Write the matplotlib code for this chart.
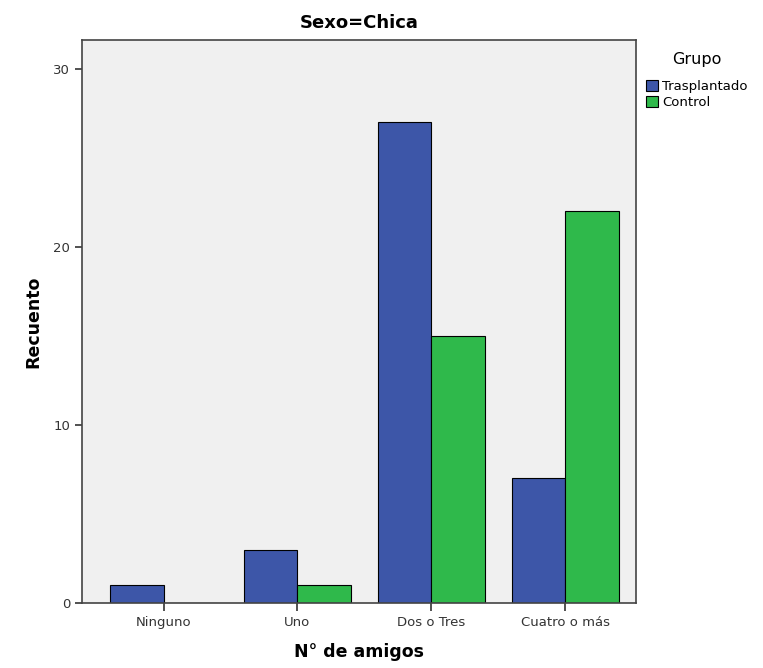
import numpy as np
import matplotlib
matplotlib.use("Agg")
import matplotlib.pyplot as plt

categories = ["Ninguno", "Uno", "Dos o Tres", "Cuatro o más"]
trasplantado = [1, 3, 27, 7]
control = [0, 1, 15, 22]
groups = ["Trasplantado", "Control"]
colors = ["#3d56a8", "#2fb94b"]

plt.rcParams['font.family'] = ['DejaVu Sans']

fig = plt.figure(figsize=(7.63, 6.68), dpi=100)
ax = fig.add_axes([0.1075, 0.0973, 0.7261, 0.8427])
ax.set_facecolor("#f0f0f0")

x = np.arange(len(categories))
w = 0.4
b1 = ax.bar(x - w / 2, trasplantado, w, color=colors[0], edgecolor="black", linewidth=0.8, label=groups[0])
b2 = ax.bar(x + w / 2, control, w, color=colors[1], edgecolor="black", linewidth=0.8, label=groups[1])

ax.set_xlim(-0.61, 3.53)
ax.set_ylim(0, 31.6)
ax.set_yticks([0, 10, 20, 30])
ax.set_xticks(x)
ax.set_xticklabels(categories, fontsize=9.5)
ax.tick_params(axis="y", labelsize=9.5, direction="out", length=5, width=1.2, colors="#333333")
ax.tick_params(axis="x", direction="out", length=6, width=1.2, colors="#333333")
for s in ax.spines.values():
    s.set_color("#444444")
    s.set_linewidth(1.2)

ax.set_xlabel("N° de amigos", fontsize=12.5, fontweight="bold", labelpad=10)
ax.set_ylabel("Recuento", fontsize=12.5, fontweight="bold", labelpad=8)
ax.set_title("Sexo=Chica", fontsize=13, fontweight="bold", pad=9)

leg = fig.legend(handles=[b1, b2], loc="upper left", bbox_to_anchor=(0.847, 0.922),
                 title="Grupo", fontsize=9.5, title_fontsize=11.5, frameon=False,
                 handlelength=0.9, handleheight=0.9, handletextpad=0.3,
                 labelspacing=0.25, borderaxespad=0, borderpad=0)
leg._legend_box.sep = 9

fig.savefig("out.png", dpi=100)
